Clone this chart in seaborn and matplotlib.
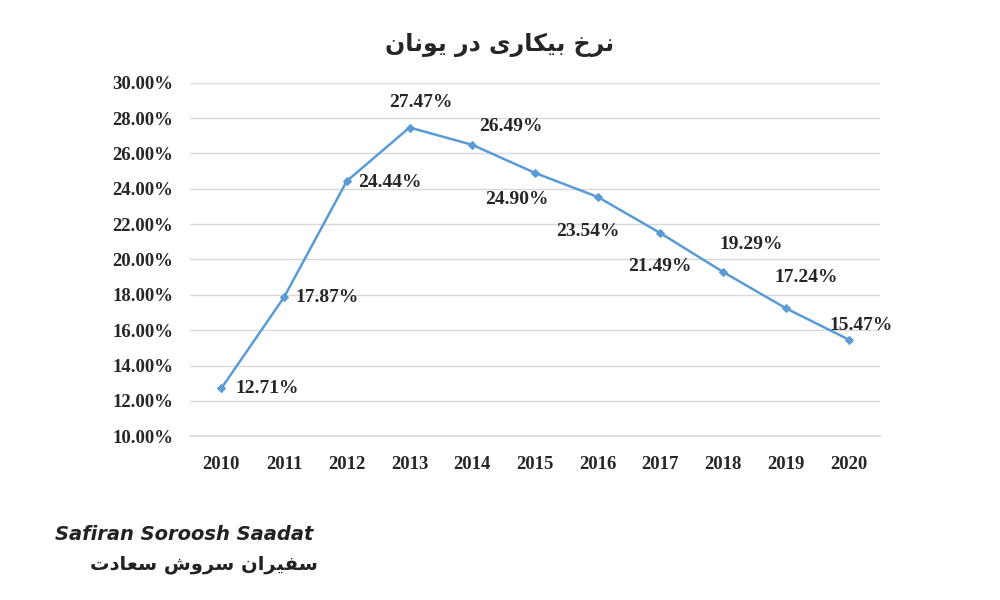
import matplotlib
matplotlib.use("Agg")
import matplotlib.pyplot as plt
import seaborn as sns
import pandas as pd

years = [2010, 2011, 2012, 2013, 2014, 2015, 2016, 2017, 2018, 2019, 2020]
rates = [12.71, 17.87, 24.44, 27.47, 26.49, 24.90, 23.54, 21.49, 19.29, 17.24, 15.47]
title = "\uFEE5\uFE8E\uFEE7\uFEEE\uFBFE \uFEAD\uFEA9 \uFBFC\uFEAD\uFE8E\uFB91\uFBFF\uFE91 \uFEA5\uFEAE\uFEE7"
brand_en = "Safiran Soroosh Saadat"
brand_fa = "\uFE95\uFEA9\uFE8E\uFECC\uFEB3 \uFEB5\uFEED\uFEAE\uFEB3 \uFEE5\uFE8D\uFEAE\uFBFF\uFED4\uFEB3"

sns.set_theme(style="white")
plt.rcParams['font.family'] = ['Liberation Serif', 'DejaVu Sans']
df = pd.DataFrame({"pos": range(len(years)), "rate": rates})

fig = plt.figure(figsize=(10, 6), dpi=100)
ax = fig.add_axes([0.19, 0.273, 0.69, 0.589])
sns.lineplot(data=df, x="pos", y="rate", ax=ax, color="#5b9bd5", lw=1.8,
             marker="D", markersize=4, markeredgecolor="#5b9bd5")
ax.set_xlim(-0.5, len(years) - 0.5)
ax.set_ylim(10, 30)
ax.set_yticks([10 + 2 * i for i in range(11)])
ax.set_yticklabels([f"{10 + 2 * i:.2f}%" for i in range(11)], fontsize=13.5, fontweight="bold")
ax.set_xticks(range(len(years)))
ax.set_xticklabels([str(y) for y in years], fontsize=13.5, fontweight="bold")
ax.tick_params(axis="x", pad=8)
ax.tick_params(axis="y", pad=6)
ax.set_xlabel(""); ax.set_ylabel("")
ax.grid(axis="y", color="#d9d9d9", lw=1)
for s in ["top", "right", "left"]:
    ax.spines[s].set_visible(False)
ax.spines["bottom"].set_color("#d9d9d9")
offsets = [(10, 0), (8, 0), (8, -1), (-15, 18), (5, 13), (-36, -19), (-30, -25),
           (-23, -24), (-3, 20), (-8, 22), (-14, 10)]
for i, (r, off) in enumerate(zip(rates, offsets)):
    ax.annotate(f"{r:.2f}%", (i, r), xytext=off, textcoords="offset points",
                fontsize=14, fontweight="bold", ha="left", va="center")
fig.text(0.5, 0.925, title, ha="center", va="center", fontsize=17, fontweight="bold",
         family=["DejaVu Sans"])
fig.text(0.055, 0.10, brand_en, fontsize=14, fontweight="bold", style="italic", color="#222222",
         family=["DejaVu Sans"])
fig.text(0.09, 0.05, brand_fa, fontsize=14, fontweight="bold", color="#222222", family=["DejaVu Sans"])
fig.savefig("out.png", dpi=100)
